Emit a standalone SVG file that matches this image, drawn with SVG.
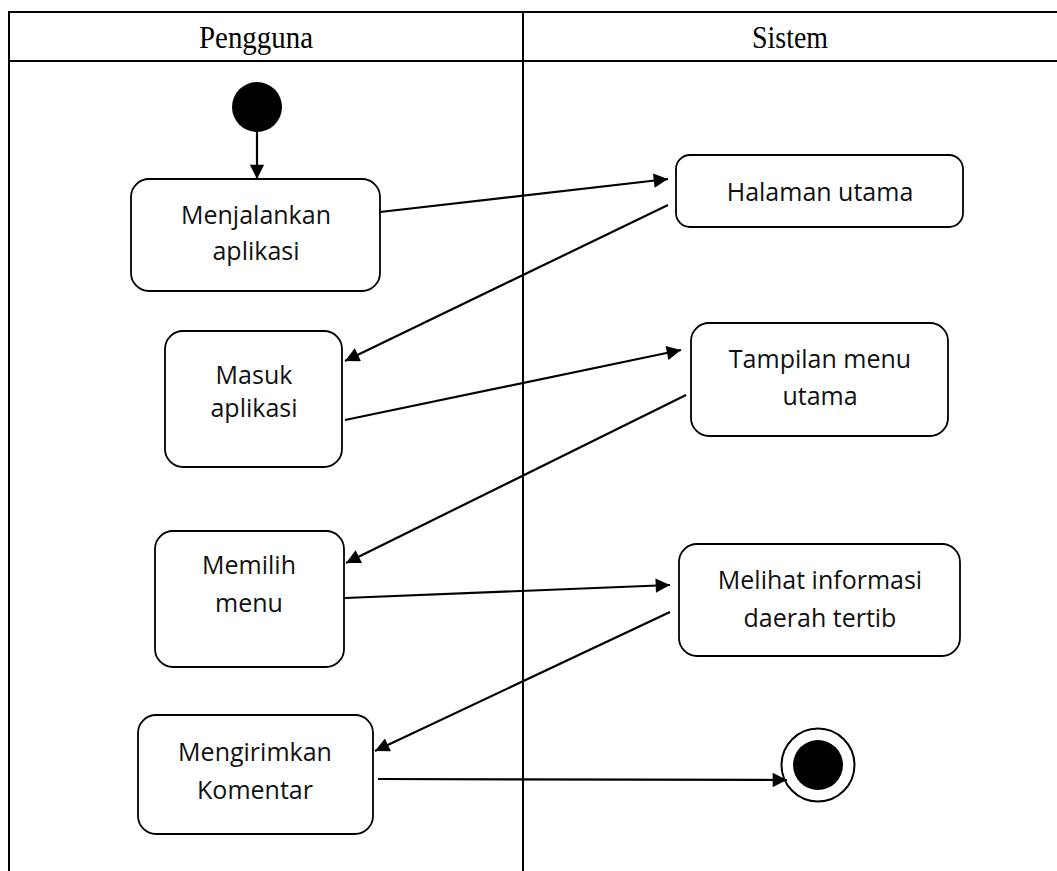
<svg xmlns="http://www.w3.org/2000/svg" width="1057" height="871" viewBox="0 0 1057 871">
<style>
.lane{stroke:#000;stroke-width:2;fill:none}
.hdr{font-family:"Liberation Serif","Times New Roman",serif;font-size:31px;text-anchor:middle;fill:#000}
.box{fill:#fff;stroke:#000;stroke-width:1.8}
.lbl{font-family:"Open Sans","Noto Sans",sans-serif;font-size:25px;text-anchor:middle;fill:#111}
.edge{stroke:#000;stroke-width:2.2;fill:none;marker-end:url(#arr)}
</style>
<defs>
<marker id="arr" viewBox="0 0 10 10" refX="10" refY="5" markerWidth="7.5" markerHeight="6.5" orient="auto" markerUnits="strokeWidth">
<path d="M0,0 L10,5 L0,10 Z" fill="#000"/>
</marker>
</defs>
<rect width="1057" height="871" fill="#fff"/>
<g id="swimlanes">
<line class="lane" x1="9" y1="12" x2="1057" y2="12"/>
<line class="lane" x1="9" y1="61" x2="1057" y2="61"/>
<line class="lane" x1="9" y1="11" x2="9" y2="871"/>
<line class="lane" x1="523" y1="11" x2="523" y2="871"/>
<text class="hdr" x="256" y="48" textLength="114" lengthAdjust="spacingAndGlyphs">Pengguna</text>
<text class="hdr" x="790" y="48" textLength="76" lengthAdjust="spacingAndGlyphs">Sistem</text>
</g>
<g id="start"><circle cx="257" cy="107" r="25" fill="#000"/></g>
<g id="menjalankan"><rect class="box" x="131" y="179" width="249" height="112" rx="18"/><text class="lbl" x="256" y="224">Menjalankan</text><text class="lbl" x="256" y="260">aplikasi</text></g>
<g id="halaman"><rect class="box" x="676" y="155" width="287" height="72" rx="14"/><text class="lbl" x="820" y="201">Halaman utama</text></g>
<g id="masuk"><rect class="box" x="165" y="331" width="177" height="136" rx="18"/><text class="lbl" x="254" y="384">Masuk</text><text class="lbl" x="254" y="417">aplikasi</text></g>
<g id="tampilan"><rect class="box" x="691" y="323" width="257" height="113" rx="18"/><text class="lbl" x="820" y="368">Tampilan menu</text><text class="lbl" x="820" y="405">utama</text></g>
<g id="memilih"><rect class="box" x="155" y="531" width="189" height="136" rx="18"/><text class="lbl" x="249" y="574">Memilih</text><text class="lbl" x="249" y="612">menu</text></g>
<g id="melihat"><rect class="box" x="679" y="544" width="281" height="112" rx="18"/><text class="lbl" x="820" y="589">Melihat informasi</text><text class="lbl" x="820" y="627">daerah tertib</text></g>
<g id="mengirimkan"><rect class="box" x="138" y="715" width="235" height="119" rx="18"/><text class="lbl" x="255" y="761">Mengirimkan</text><text class="lbl" x="255" y="799">Komentar</text></g>
<g id="end"><circle cx="818" cy="765" r="36.5" fill="#fff" stroke="#000" stroke-width="2"/><circle cx="818" cy="765" r="25" fill="#000"/></g>
<g id="connectors">
<line class="edge" x1="257" y1="132" x2="257" y2="179"/>
<line class="edge" x1="380" y1="212" x2="668" y2="179"/>
<line class="edge" x1="668" y1="205" x2="345" y2="361"/>
<line class="edge" x1="345" y1="420" x2="681" y2="350"/>
<line class="edge" x1="686" y1="395" x2="346" y2="563"/>
<line class="edge" x1="345" y1="598" x2="670" y2="585"/>
<line class="edge" x1="670" y1="612" x2="375" y2="751"/>
<line class="edge" x1="378" y1="779" x2="787" y2="780"/>
</g>
</svg>
